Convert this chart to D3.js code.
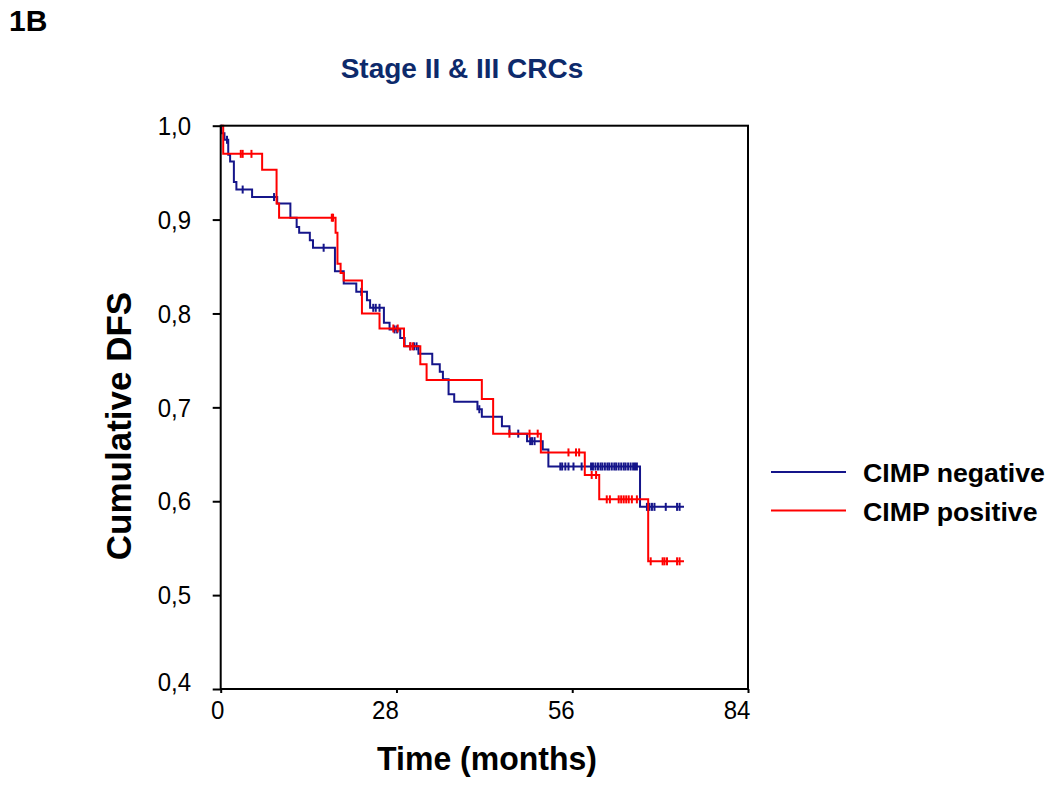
<!DOCTYPE html>
<html>
<head>
<meta charset="utf-8">
<script src="https://cdn.jsdelivr.net/npm/d3@7"></script>
<style>
  html, body { margin: 0; padding: 0; background: #fff; }
  svg { display: block; }
  text { font-family: "Liberation Sans", Arial, sans-serif; }
</style>
</head>
<body>
<svg id="chart" width="1050" height="789"></svg>
<script>
// ---- Data ----
const xTicks = [0, 28, 56, 84];
const yTicks = [0.4, 0.5, 0.6, 0.7, 0.8, 0.9, 1.0];
const yTickLabels = ["0,4", "0,5", "0,6", "0,7", "0,8", "0,9", "1,0"];
const seriesNames = ["CIMP negative", "CIMP positive"];

// CIMP negative: step times (months) and survival after each step
const negTimes = [0.1, 0.6, 1.2, 1.5, 2.1, 2.5, 5.0, 9.0, 11.1, 12.1, 12.5, 14.2, 14.7, 18.2, 19.6, 21.6,
  23.3, 23.8, 26.0, 26.9, 28.6, 29.3, 31.5, 33.7, 34.9, 35.4, 36.3, 37.2, 40.9, 41.6, 44.8, 46.0,
  48.8, 51.3, 52.2, 66.8];
const negSurv = [0.992, 0.985, 0.969, 0.962, 0.940, 0.932, 0.924, 0.917, 0.902, 0.892, 0.886, 0.878,
  0.870, 0.845, 0.832, 0.823, 0.814, 0.806, 0.790, 0.783, 0.774, 0.765, 0.757, 0.746, 0.738, 0.730,
  0.714, 0.706, 0.698, 0.690, 0.680, 0.672, 0.664, 0.655, 0.637, 0.594];
const negCensor = [1.0, 3.5, 8.5, 16.4, 22.4, 24.3, 24.7, 25.3, 27.7, 28.1, 30.2, 30.8, 31.2, 41.2,
  47.4, 49.3, 49.6, 50.0, 54.1, 54.4, 54.9, 55.4, 56.2, 57.5, 59.0, 59.3, 59.7, 60.1, 60.5, 60.8,
  61.2, 61.6, 61.9, 62.3, 62.7, 63.0, 63.4, 63.8, 64.2, 64.5, 64.9, 65.3, 65.7, 66.0, 66.3,
  67.9, 68.3, 68.7, 69.1, 70.9, 72.7, 73.1];
const negEnd = 73.8;

// CIMP positive
const posTimes = [0.4, 6.6, 8.9, 9.3, 18.3, 18.6, 19.1, 19.6, 22.5, 25.3, 29.2, 31.8, 32.8, 41.6,
  43.4, 51.0, 58.0, 60.3, 68.1];
const posSurv = [0.970, 0.953, 0.917, 0.902, 0.886, 0.853, 0.843, 0.835, 0.800, 0.784, 0.765, 0.746,
  0.729, 0.709, 0.672, 0.652, 0.628, 0.602, 0.536];
const posCensor = [3.2, 3.5, 4.9, 17.7, 17.9, 27.5, 28.2, 30.2, 30.6, 46.0, 49.2, 50.5, 55.4, 56.6,
  57.1, 59.1, 59.8, 61.5, 62.0, 63.4, 63.8, 64.2, 64.6, 65.0, 65.5, 66.3, 68.5, 70.4, 70.7, 71.1,
  72.7, 73.1];
const posEnd = 73.8;

(function draw() {
  const svg = d3.select("#chart");
  const pL = 220.7, pR = 748, pT = 125.7, pB = 689;
  const x = d3.scaleLinear().domain([0, 84]).range([pL, pR]);
  const y = d3.scaleLinear().domain([0.4, 1.0]).range([pB, pT]);
  const colors = ["#15158a", "#ff0000"];
  const SY = 1.06;

  const series = [
    { times: negTimes, surv: negSurv, censor: negCensor, end: negEnd, color: colors[0] },
    { times: posTimes, surv: posSurv, censor: posCensor, end: posEnd, color: colors[1] }
  ];

  svg.append("text").attr("x", 9).attr("y", 31)
    .attr("font-size", 30).attr("font-weight", "bold").attr("fill", "#000").text("1B");

  svg.append("text").attr("x", 462).attr("y", 78).attr("text-anchor", "middle")
    .attr("font-size", 28).attr("font-weight", "bold").attr("fill", "#0d2a6b")
    .text("Stage II & III CRCs");

  const yAxis = d3.axisLeft(y).tickValues(yTicks).tickSize(8).tickFormat("");
  const xAxis = d3.axisBottom(x).tickValues(xTicks).tickSize(4).tickFormat("");
  const gy = svg.append("g").attr("transform", `translate(${pL},0)`).call(yAxis);
  const gx = svg.append("g").attr("transform", `translate(0,${pB})`).call(xAxis);
  [gx, gy].forEach(g => {
    g.select(".domain").remove();
    g.selectAll(".tick line").attr("stroke", "#000").attr("stroke-width", 2);
  });

  yTicks.forEach((v, i) => {
    const dy = i === 0 ? -7 : 0;
    svg.append("text")
      .attr("transform", `translate(191,${y(v) + dy}) scale(1,${SY})`)
      .attr("text-anchor", "end").attr("dy", "0.36em")
      .attr("font-size", 24).attr("fill", "#000").text(yTickLabels[i]);
  });
  xTicks.forEach((v, i) => {
    const dx = i === 0 ? -3 : -11;
    svg.append("text")
      .attr("transform", `translate(${x(v) + dx},719) scale(1,${SY})`)
      .attr("text-anchor", "middle")
      .attr("font-size", 24).attr("fill", "#000").text(String(v));
  });

  svg.append("text")
    .attr("transform", `translate(487,770) scale(1,${SY})`)
    .attr("text-anchor", "middle").attr("font-size", 32).attr("font-weight", "bold")
    .attr("fill", "#000").text("Time (months)");
  svg.append("text")
    .attr("transform", `translate(131,426) rotate(-90)`)
    .attr("text-anchor", "middle").attr("font-size", 35).attr("font-weight", "bold")
    .attr("fill", "#000").text("Cumulative DFS");

  const line = d3.line().x(d => x(d[0])).y(d => y(d[1])).curve(d3.curveStepAfter);
  function survAt(s, t) {
    let v = 1.0;
    for (let i = 0; i < s.times.length; i++) { if (s.times[i] <= t) v = s.surv[i]; }
    return v;
  }
  series.forEach(s => {
    const pts = [[0, 1.0]];
    s.times.forEach((t, i) => pts.push([t, s.surv[i]]));
    pts.push([s.end, s.surv[s.surv.length - 1]]);
    const g = svg.append("g");
    g.append("path").attr("d", line(pts)).attr("fill", "none")
      .attr("stroke", s.color).attr("stroke-width", 2);
    g.selectAll("line.c").data(s.censor).enter().append("line")
      .attr("x1", d => x(d)).attr("x2", d => x(d))
      .attr("y1", d => y(survAt(s, d)) - 4).attr("y2", d => y(survAt(s, d)) + 4)
      .attr("stroke", s.color).attr("stroke-width", 2);
  });

  svg.append("rect").attr("x", pL).attr("y", pT)
    .attr("width", pR - pL).attr("height", pB - pT)
    .attr("fill", "none").attr("stroke", "#000").attr("stroke-width", 2);

  const legY = [472, 510.5];
  seriesNames.forEach((n, i) => {
    svg.append("line").attr("x1", 771).attr("x2", 846).attr("y1", legY[i]).attr("y2", legY[i])
      .attr("stroke", colors[i]).attr("stroke-width", 2);
    svg.append("text").attr("x", 863).attr("y", legY[i] + 5).attr("dy", "0.2em")
      .attr("font-size", 26.7).attr("font-weight", "bold").attr("fill", "#000").text(n);
  });
})();
</script>
</body>
</html>
